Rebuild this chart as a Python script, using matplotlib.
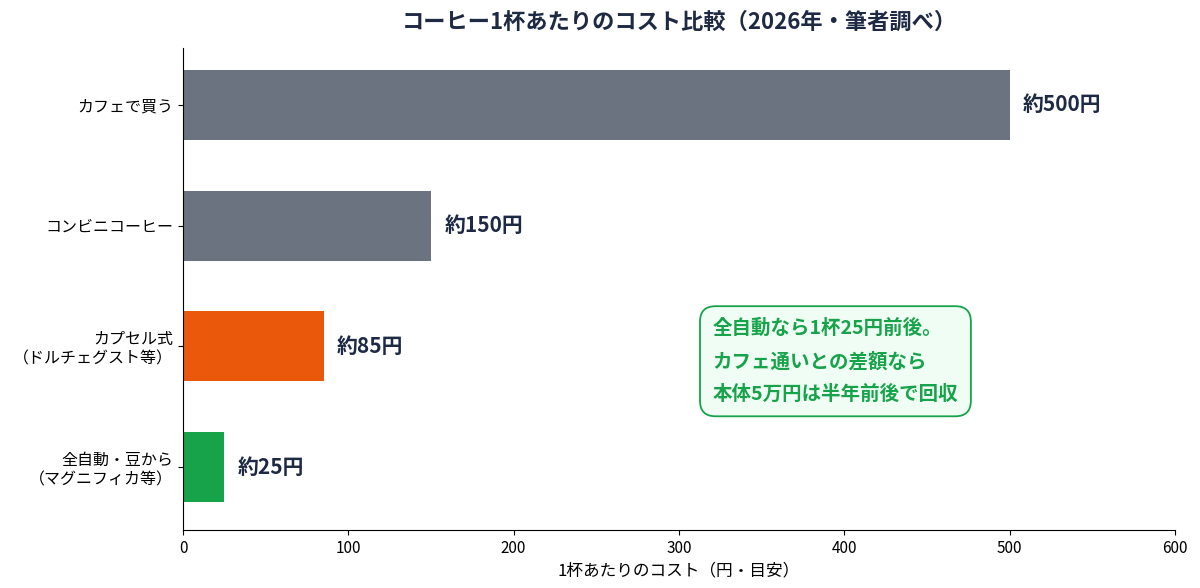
import matplotlib
matplotlib.use("Agg")
import matplotlib.pyplot as plt

plt.rcParams['font.family'] = ['Noto Sans CJK JP', 'DejaVu Sans']

categories = ["カフェで買う", "コンビニコーヒー", "カプセル式\n（ドルチェグスト等）", "全自動・豆から\n（マグニフィカ等）"]
costs = [500, 150, 85, 25]
labels = ["約500円", "約150円", "約85円", "約25円"]
colors = ["#6b7280", "#6b7280", "#ea580c", "#16a34a"]
note = "全自動なら1杯25円前後。\nカフェ通いとの差額なら\n本体5万円は半年前後で回収"

navy = "#1e2a44"

fig, ax = plt.subplots(figsize=(12, 5.88), dpi=100)
fig.subplots_adjust(left=0.1525, right=0.979, top=0.918, bottom=0.099)

y = range(len(categories))
ax.barh(y, costs, height=0.58, color=colors)
ax.set_ylim(3.52, -0.47)
ax.set_yticks(list(y))
ax.set_yticklabels(categories, fontsize=11.5)
ax.set_xlim(0, 600)
ax.set_xticks(range(0, 601, 100))
ax.tick_params(axis='x', labelsize=11)
ax.set_xlabel("1杯あたりのコスト（円・目安）", fontsize=12)

for i, (v, lab) in enumerate(zip(costs, labels)):
    ax.text(v + 8, i, lab, va='center', ha='left', fontsize=15,
            fontweight='bold', color=navy)

ax.set_title("コーヒー1杯あたりのコスト比較（2026年・筆者調べ）", fontsize=16,
             fontweight='bold', color=navy, pad=14)

for s in ("top", "right"):
    ax.spines[s].set_visible(False)

ax.text(0.534, 0.35, note, transform=ax.transAxes, ha='left', va='center',
        fontsize=14, fontweight='bold', color="#16a34a", linespacing=1.88,
        bbox=dict(boxstyle="round,pad=0.65,rounding_size=0.8", facecolor="#f0fdf4",
                  edgecolor="#16a34a", linewidth=1.3))

fig.savefig("out.png", dpi=100)
